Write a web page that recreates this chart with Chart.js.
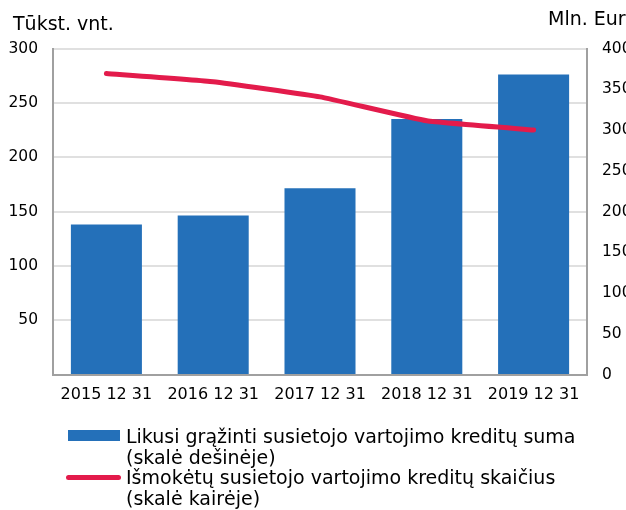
<!DOCTYPE html>
<html>
<head>
<meta charset="utf-8">
<script src="https://cdn.jsdelivr.net/npm/chart.js@4"></script>
<style>
  html, body { margin: 0; padding: 0; background: #fff; overflow: hidden; width: 626px; height: 510px; }
  #wrap { position: absolute; left: 0; top: 0; width: 660px; height: 510px; }
  .ttl { position: absolute; font-family: "DejaVu Sans", sans-serif; font-size: 19px; line-height: 19px; color: #000; white-space: nowrap; }
  #legend { position: absolute; left: 0; top: 426px; width: 626px; font-family: "DejaVu Sans", sans-serif; font-size: 19px; line-height: 20.7px; color: #000; }
  .lg { position: absolute; left: 126px; white-space: nowrap; }
  .sw { position: absolute; }
</style>
</head>
<body>
<div id="wrap"><canvas id="c"></canvas></div>
<div class="ttl" style="left:13px; top:14px">Tūkst. vnt.</div>
<div class="ttl" style="left:548px; top:9px">Mln. Eur</div>
<div id="legend">
  <div class="sw" style="left:68px; top:4px; width:52px; height:11px; background:#2470b9"></div>
  <div class="lg" style="top:0">Likusi grąžinti susietojo vartojimo kreditų suma<br>(skalė dešinėje)</div>
  <div class="sw" style="left:66px; top:48.5px; width:55px; height:5px; border-radius:3px; background:#e31b4b"></div>
  <div class="lg" style="top:41.4px">Išmokėtų susietojo vartojimo kreditų skaičius<br>(skalė kairėje)</div>
</div>
<script>
const categories = ['2015 12 31', '2016 12 31', '2017 12 31', '2018 12 31', '2019 12 31'];
const creditAmount = [184, 195, 228.5, 313.5, 368];      // Mln. Eur (right axis)
const creditCount = [277, 269.5, 255.5, 233.5, 225];     // Tūkst. vnt. (left axis)
const seriesNames = ['Likusi grąžinti susietojo vartojimo kreditų suma (skalė dešinėje)',
                     'Išmokėtų susietojo vartojimo kreditų skaičius (skalė kairėje)'];

const FONT = 'DejaVu Sans';
new Chart(document.getElementById('c'), {
  data: {
    labels: categories,
    datasets: [
      {
        type: 'line', label: seriesNames[1], data: creditCount, yAxisID: 'yL', order: 0,
        borderColor: '#e31b4b', borderWidth: 5, borderCapStyle: 'round', borderJoinStyle: 'round',
        pointRadius: 0, tension: 0.1, fill: false
      },
      {
        type: 'bar', label: seriesNames[0], data: creditAmount, yAxisID: 'yR', order: 1,
        backgroundColor: '#2470b9', borderWidth: 0,
        categoryPercentage: 1, barPercentage: 0.665
      }
    ]
  },
  options: {
    responsive: true, maintainAspectRatio: false, animation: false,
    layout: { padding: { top: 48.5, bottom: 95.5, left: 0, right: 0 } },
    plugins: { legend: { display: false }, tooltip: { enabled: false } },
    scales: {
      x: {
        grid: { display: false, drawTicks: false },
        border: { color: '#a0a0a0', width: 2 },
        ticks: { color: '#000', font: { family: FONT, size: 16 }, padding: 11, maxRotation: 0, autoSkip: false },
        afterFit(s) { s.height = 40; }
      },
      yL: {
        position: 'left', min: 0, max: 300,
        grid: { color: '#e0e0e0', lineWidth: 2, drawTicks: false },
        border: { color: '#a0a0a0', width: 2 },
        ticks: { stepSize: 50, color: '#000', font: { family: FONT, size: 15.5 }, padding: 15,
                 callback: v => v === 0 ? '' : v },
        afterFit(s) { s.width = 53; }
      },
      yR: {
        position: 'right', min: 0, max: 400,
        grid: { drawOnChartArea: false, drawTicks: false },
        border: { color: '#a0a0a0', width: 2 },
        ticks: { stepSize: 50, color: '#000', font: { family: FONT, size: 15.5 }, padding: 15 },
        afterFit(s) { s.width = 73; }
      }
    }
  }
});
</script>
</body>
</html>
